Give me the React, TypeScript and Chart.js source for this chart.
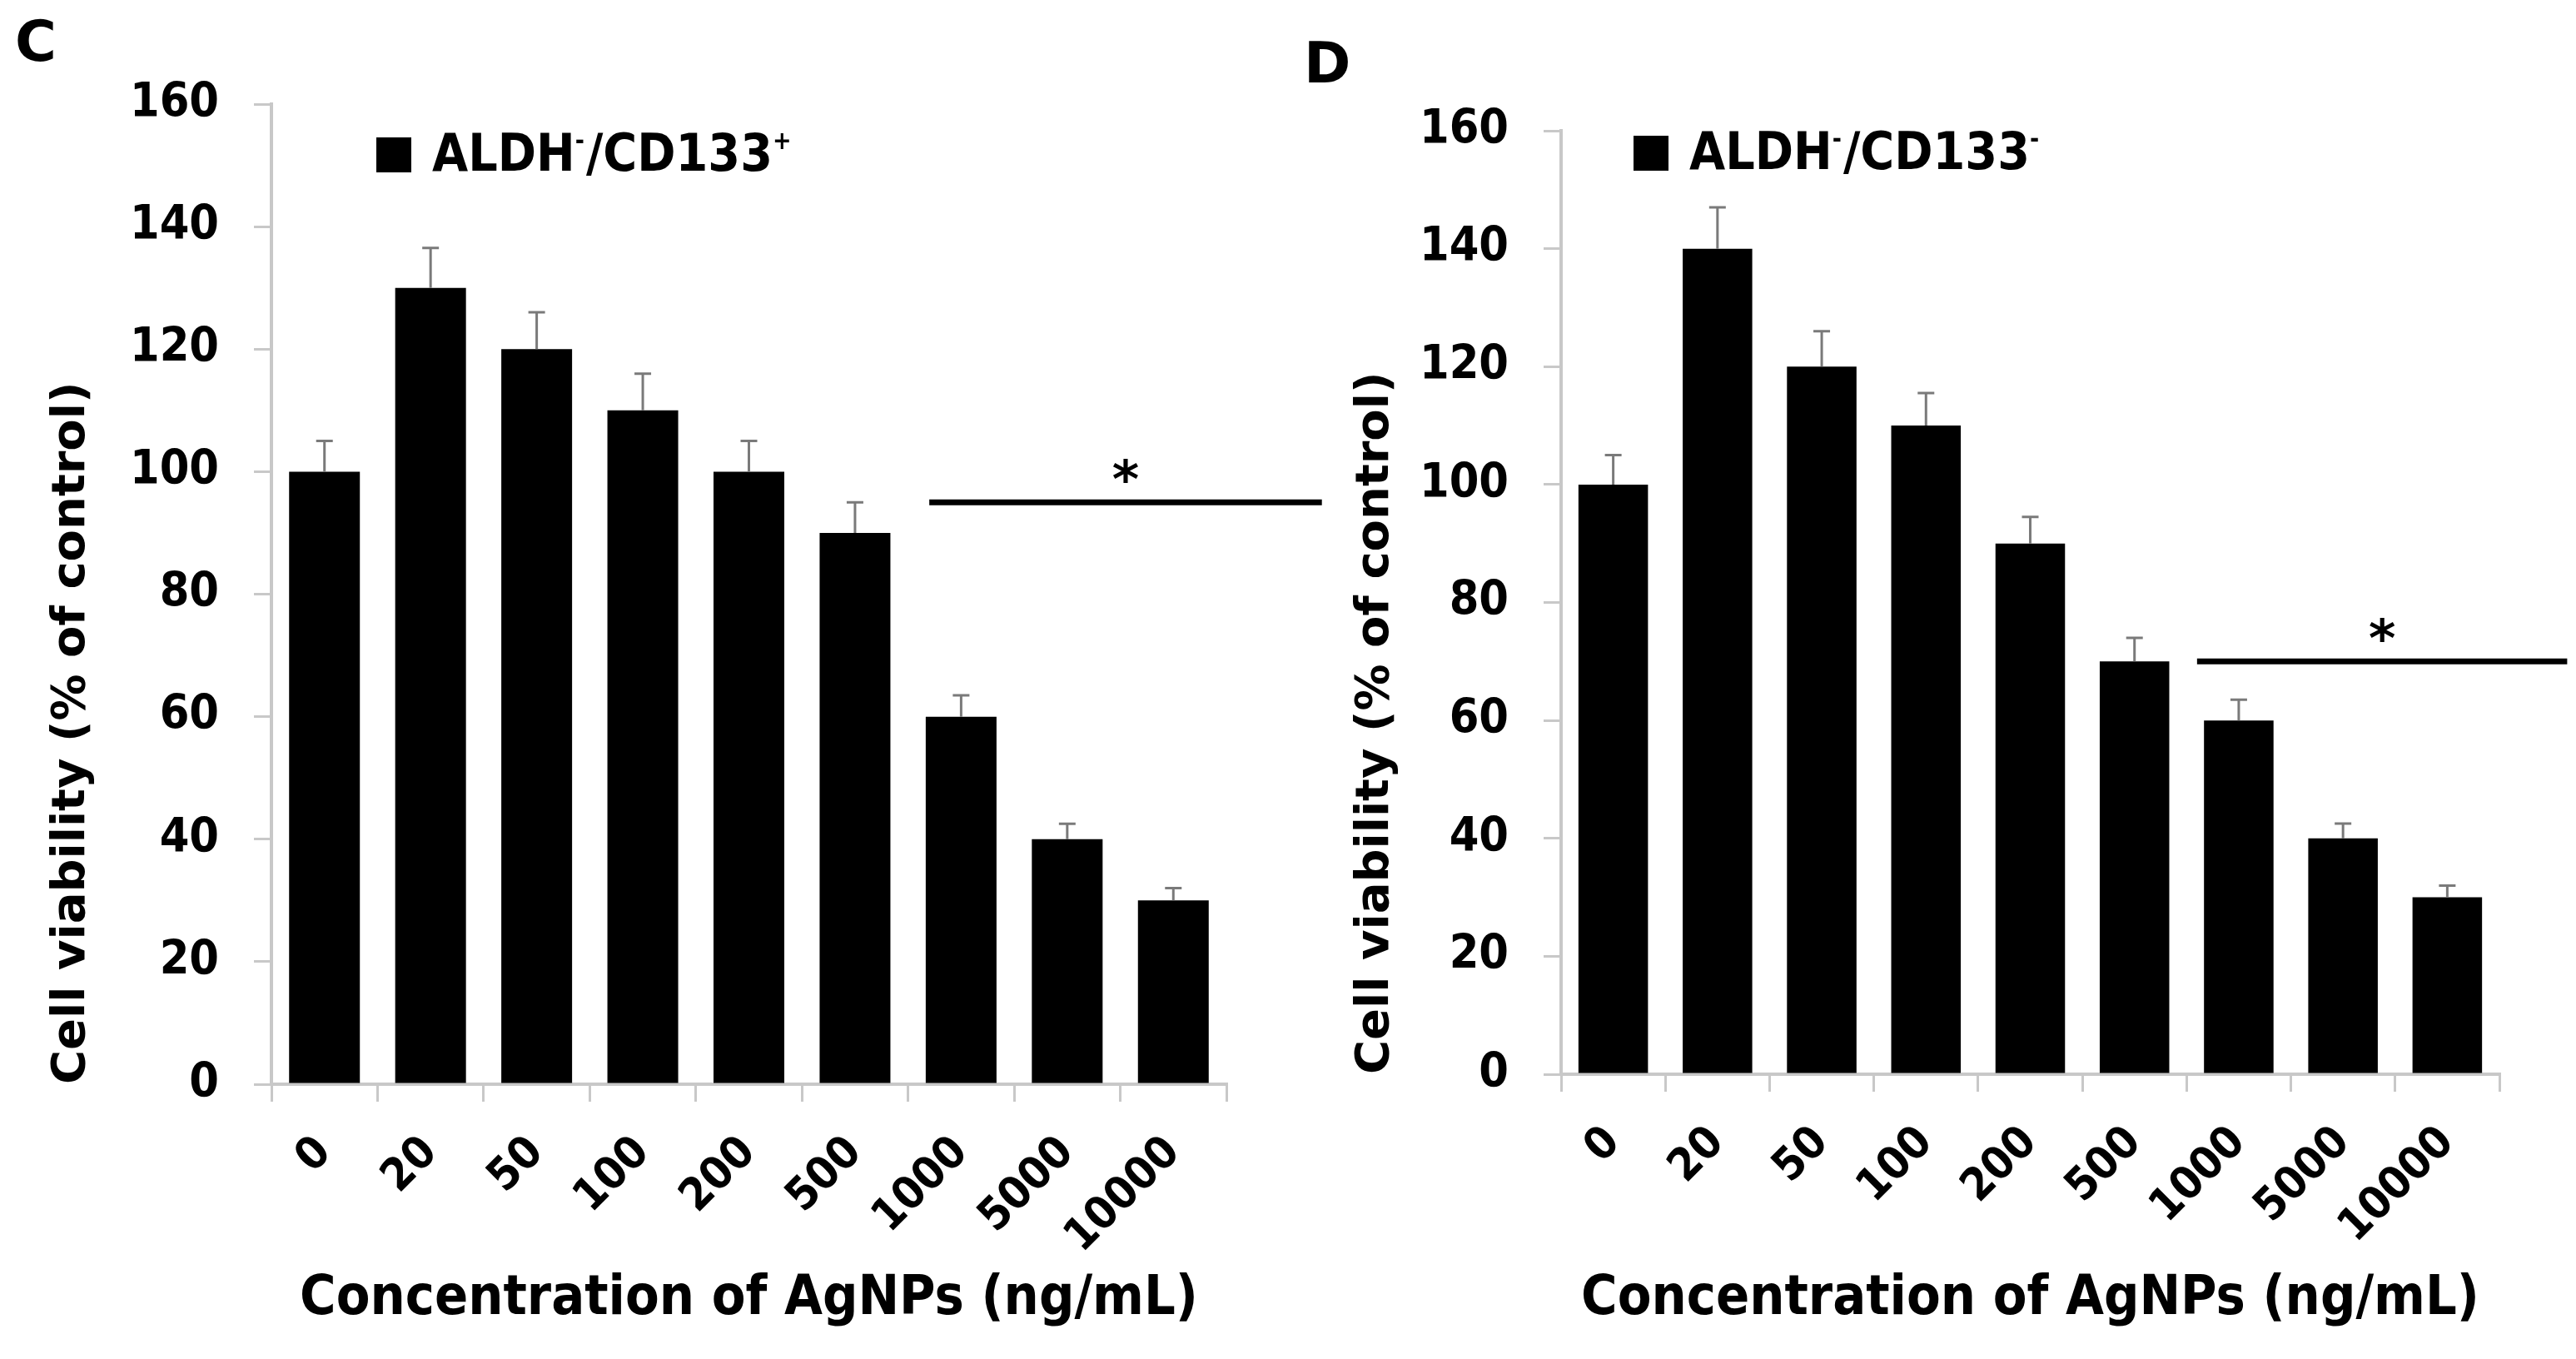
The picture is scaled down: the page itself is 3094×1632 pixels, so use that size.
import React, { useEffect, useRef } from 'react';
import { Chart, registerables } from 'chart.js';

Chart.register(...registerables);

// ---------- data ----------
const concentrations = ['0', '20', '50', '100', '200', '500', '1000', '5000', '10000'];
const viabilityC = [100, 130, 120, 110, 100, 90, 60, 40, 30];
const errorC = [5, 6.5, 6, 6, 5, 5, 3.5, 2.5, 2];
const viabilityD = [100, 140, 120, 110, 90, 70, 60, 40, 30];
const errorD = [5, 7, 6, 5.5, 4.5, 4, 3.5, 2.5, 2];
const yMin = 0;
const yMax = 160;
const yStep = 20;
// significance bracket (category index range, value level)
const sigC = { from: 5.7, to: 9.4, value: 95 };
const sigD = { from: 5.6, to: 9.15, value: 70 };
const legendC = ['ALDH', '-', '/CD133', '+'];
const legendD = ['ALDH', '-', '/CD133', '-'];
const yTitle = 'Cell viability (% of control)';
const xTitle = 'Concentration of AgNPs (ng/mL)';

const COND = "'DejaVu Sans Condensed', 'DejaVu Sans', sans-serif";
const WIDE = "'DejaVu Sans', sans-serif";
const AXIS_GRAY = '#c8c8c8';

type PanelSpec = {
  letter: string;
  values: number[];
  errors: number[];
  sig: { from: number; to: number; value: number };
  legend: string[];
  left: number;
  width: number;
  height: number;
  padLeft: number;
  padTop: number;
  padRight: number;
  padBottom: number;
  yWidth: number;
  xHeight: number;
  yTitlePad: number;
  legendX: number;
  legendY: number;
  letterX: number;
  letterY: number;
};

const panelC: PanelSpec = {
  letter: 'C',
  values: viabilityC,
  errors: errorC,
  sig: sigC,
  legend: legendC,
  left: 0,
  width: 1600,
  height: 1632,
  padLeft: 40,
  padTop: 125,
  padRight: 127,
  padBottom: 20,
  yWidth: 286,
  xHeight: 310,
  yTitlePad: 13,
  legendX: 452,
  legendY: 165,
  letterX: 18,
  letterY: 73,
};

const panelD: PanelSpec = {
  letter: 'D',
  values: viabilityD,
  errors: errorD,
  sig: sigD,
  legend: legendD,
  left: 1560,
  width: 1534,
  height: 1632,
  padLeft: 40,
  padTop: 157,
  padRight: 92,
  padBottom: 20,
  yWidth: 275,
  xHeight: 322,
  yTitlePad: 19,
  legendX: 402,
  legendY: 163,
  letterX: 6,
  letterY: 99,
};

function makeAnnotPlugin(p: PanelSpec) {
  return {
    id: 'annot' + p.letter,
    afterDatasetsDraw(chart: any) {
      const ctx = chart.ctx as CanvasRenderingContext2D;
      const xs = chart.scales.x;
      const ys = chart.scales.y;
      const meta = chart.getDatasetMeta(0);
      ctx.save();
      // error bars (upper only)
      ctx.strokeStyle = '#7a7a7a';
      ctx.lineWidth = 3;
      meta.data.forEach((bar: any, i: number) => {
        const top = ys.getPixelForValue(p.values[i] + p.errors[i]);
        ctx.beginPath();
        ctx.moveTo(bar.x, bar.y);
        ctx.lineTo(bar.x, top);
        ctx.moveTo(bar.x - 10, top);
        ctx.lineTo(bar.x + 10, top);
        ctx.stroke();
      });
      // significance line + asterisk
      const ly = ys.getPixelForValue(p.sig.value);
      const x1 = xs.getPixelForValue(p.sig.from);
      const x2 = xs.getPixelForValue(p.sig.to);
      ctx.strokeStyle = '#000';
      ctx.lineWidth = 7;
      ctx.beginPath();
      ctx.moveTo(x1, ly);
      ctx.lineTo(x2, ly);
      ctx.stroke();
      ctx.fillStyle = '#000';
      ctx.font = `bold 62px ${WIDE}`;
      ctx.textAlign = 'center';
      ctx.textBaseline = 'alphabetic';
      ctx.fillText('*', (x1 + x2) / 2, ly - 6);
      // legend
      const sq = 42;
      ctx.fillRect(p.legendX, p.legendY, sq, sq);
      let tx = p.legendX + sq + 25;
      const base = p.legendY + sq - 2;
      ctx.textAlign = 'left';
      p.legend.forEach((part, k) => {
        const sup = k % 2 === 1;
        ctx.font = sup ? `bold 30px ${COND}` : `bold 62px ${COND}`;
        const yb = sup ? base - 26 : base;
        ctx.fillText(part, tx, yb);
        tx += ctx.measureText(part).width + (sup ? 2 : 0);
      });
      // panel letter
      ctx.font = `bold 68px ${WIDE}`;
      ctx.fillText(p.letter, p.letterX, p.letterY);
      ctx.restore();
    },
  };
}

function Panel({ p }: { p: PanelSpec }) {
  const ref = useRef<HTMLCanvasElement>(null);
  useEffect(() => {
    if (!ref.current) return;
    const chart = new Chart(ref.current, {
      type: 'bar',
      data: {
        labels: concentrations,
        datasets: [
          {
            label: p.legend.join(''),
            data: p.values,
            backgroundColor: '#000',
            borderWidth: 0,
            barPercentage: 0.667,
            categoryPercentage: 1,
          },
        ],
      },
      options: {
        responsive: false,
        animation: false,
        devicePixelRatio: 1,
        layout: {
          padding: { left: p.padLeft, top: p.padTop, right: p.padRight, bottom: p.padBottom },
        },
        plugins: {
          legend: { display: false },
          tooltip: { enabled: false },
        },
        scales: {
          x: {
            afterFit: (s: any) => {
              s.height = p.xHeight;
            },
            grid: {
              display: true,
              drawOnChartArea: false,
              drawTicks: true,
              tickLength: 21,
              color: AXIS_GRAY,
              lineWidth: 3,
            },
            border: { display: true, color: AXIS_GRAY, width: 4 },
            ticks: {
              minRotation: 45,
              maxRotation: 45,
              padding: 30,
              color: '#000',
              font: { family: COND, size: 54, weight: 'bold' },
            },
            title: {
              display: true,
              text: xTitle,
              color: '#000',
              font: { family: COND, size: 66, weight: 'bold' },
              padding: { top: 0, bottom: 12 },
            },
          },
          y: {
            min: yMin,
            max: yMax,
            afterFit: (s: any) => {
              s.width = p.yWidth;
            },
            grid: {
              display: true,
              drawOnChartArea: false,
              drawTicks: true,
              tickLength: 21,
              color: AXIS_GRAY,
              lineWidth: 3,
            },
            border: { display: true, color: AXIS_GRAY, width: 4 },
            ticks: {
              stepSize: yStep,
              padding: 42,
              color: '#000',
              font: { family: COND, size: 57, weight: 'bold' },
            },
            title: {
              display: true,
              text: yTitle,
              align: 'start',
              color: '#000',
              font: { family: WIDE, size: 56, weight: 'bold' },
              padding: { top: p.yTitlePad, bottom: 0 },
            },
          },
        },
      },
      plugins: [makeAnnotPlugin(p)],
    } as any);
    return () => chart.destroy();
  }, [p]);
  return (
    <canvas
      ref={ref}
      width={p.width}
      height={p.height}
      style={{ position: 'absolute', left: p.left, top: 0, width: p.width, height: p.height }}
    />
  );
}

export default function App() {
  return (
    <div
      style={{
        position: 'absolute',
        left: 0,
        top: 0,
        width: 3094,
        height: 1632,
        background: '#fff',
        overflow: 'hidden',
      }}
    >
      <Panel p={panelC} />
      <Panel p={panelD} />
    </div>
  );
}
